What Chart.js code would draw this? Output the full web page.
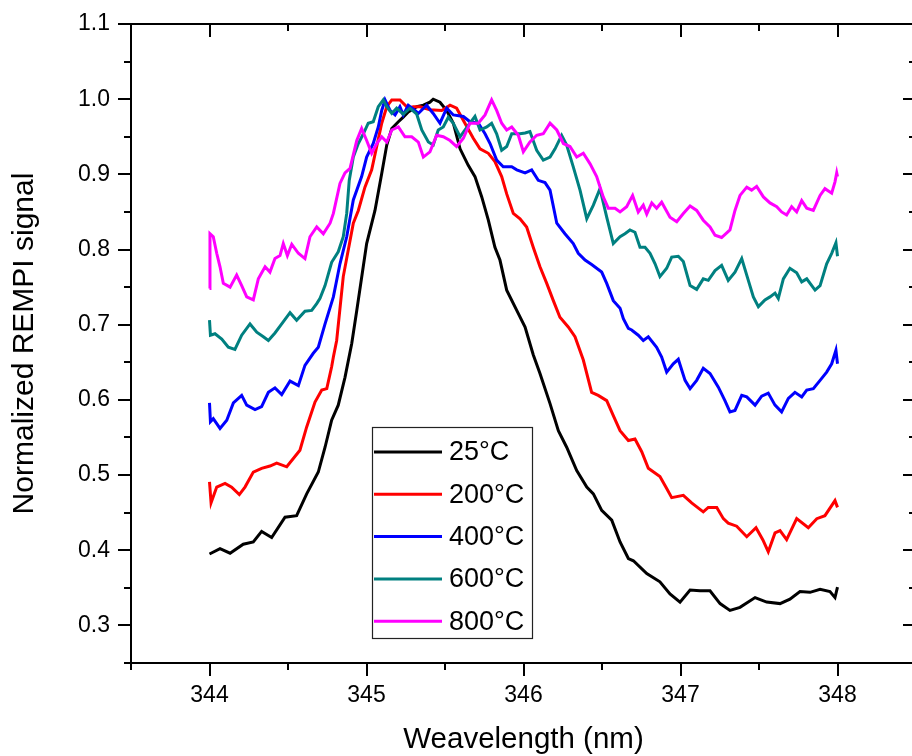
<!DOCTYPE html>
<html><head><meta charset="utf-8">
<script src="https://cdn.jsdelivr.net/npm/chart.js@4.4.1/dist/chart.umd.min.js"></script>
<style>
html,body{margin:0;padding:0;background:#fff;overflow:hidden}
#wrap{width:912px;height:756px;overflow:hidden;position:relative;background:#fff}
canvas{display:block}
</style>
</head><body>
<div id="wrap"><canvas id="c" width="930" height="756" style="width:930px;height:756px"></canvas></div>
<script>
// ---------- data (wavelength in nm, normalized signal) ----------
const seriesNames = ['25°C','200°C','400°C','600°C','800°C'];
const xTickLabels = [344, 345, 346, 347, 348];
const yTickLabels = [0.3, 0.4, 0.5, 0.6, 0.7, 0.8, 0.9, 1.0, 1.1];

const wl25 = [344.000,344.067,344.131,344.215,344.279,344.332,344.396,344.481,344.555,344.619,344.693,344.736,344.778,344.820,344.863,344.906,344.938,345.001,345.054,345.097,345.129,345.161,345.203,345.234,345.266,345.320,345.362,345.404,345.425,345.468,345.511,345.553,345.596,345.648,345.691,345.734,345.776,345.818,345.850,345.893,345.957,346.010,346.062,346.105,346.169,346.222,346.275,346.339,346.403,346.445,346.498,346.562,346.615,346.668,346.700,346.785,346.869,346.933,346.997,347.061,347.124,347.188,347.252,347.315,347.379,347.475,347.549,347.634,347.697,347.761,347.825,347.889,347.952,347.984,348.000];
const sig25 = [0.395,0.402,0.396,0.408,0.411,0.425,0.417,0.444,0.446,0.475,0.504,0.537,0.573,0.593,0.630,0.675,0.719,0.808,0.852,0.901,0.939,0.961,0.970,0.976,0.983,0.990,0.992,0.996,1.000,0.996,0.985,0.968,0.934,0.912,0.897,0.870,0.839,0.803,0.786,0.746,0.719,0.697,0.660,0.635,0.595,0.559,0.537,0.506,0.484,0.475,0.453,0.440,0.411,0.389,0.386,0.369,0.358,0.342,0.331,0.347,0.346,0.346,0.329,0.320,0.324,0.337,0.331,0.329,0.335,0.345,0.344,0.348,0.345,0.337,0.351];

const wl200 = [344.000,344.010,344.046,344.099,344.141,344.190,344.226,344.279,344.332,344.385,344.428,344.492,344.576,344.619,344.672,344.715,344.747,344.778,344.789,344.810,344.852,344.916,344.948,344.990,345.033,345.065,345.097,345.129,345.161,345.213,345.266,345.298,345.341,345.404,345.479,345.532,345.574,345.627,345.680,345.723,345.776,345.818,345.861,345.893,345.935,345.978,346.020,346.062,346.105,346.148,346.190,346.232,346.285,346.328,346.381,346.434,346.476,346.530,346.572,346.615,346.668,346.710,346.753,346.795,346.869,346.912,346.944,347.018,347.071,347.145,347.177,347.231,347.273,347.304,347.358,347.422,347.481,347.524,347.559,347.602,347.634,347.676,347.740,347.814,347.868,347.920,347.984,348.000];
const sig200 = [0.491,0.463,0.484,0.489,0.484,0.474,0.484,0.504,0.509,0.512,0.516,0.511,0.533,0.564,0.597,0.613,0.615,0.644,0.657,0.679,0.764,0.835,0.852,0.883,0.906,0.937,0.968,0.990,0.999,0.999,0.988,0.990,0.990,0.986,0.985,0.992,0.988,0.968,0.948,0.934,0.928,0.917,0.897,0.874,0.848,0.841,0.830,0.803,0.777,0.755,0.732,0.710,0.697,0.684,0.653,0.610,0.606,0.599,0.579,0.559,0.546,0.548,0.531,0.509,0.498,0.482,0.470,0.473,0.463,0.451,0.457,0.457,0.442,0.436,0.432,0.418,0.430,0.414,0.398,0.423,0.426,0.414,0.442,0.430,0.442,0.446,0.466,0.457];

const wl400 = [344.000,344.006,344.024,344.067,344.110,344.152,344.205,344.237,344.290,344.332,344.375,344.417,344.460,344.513,344.566,344.608,344.661,344.693,344.736,344.789,344.831,344.874,344.916,344.969,345.001,345.043,345.075,345.097,345.118,345.150,345.182,345.213,345.234,345.266,345.309,345.330,345.383,345.425,345.468,345.511,345.553,345.617,345.659,345.712,345.755,345.787,345.829,345.871,345.925,345.957,346.010,346.052,346.094,346.137,346.169,346.212,346.264,346.317,346.349,346.392,346.434,346.498,346.530,346.572,346.615,346.636,346.668,346.689,346.731,346.763,346.795,346.848,346.880,346.912,346.954,346.986,347.029,347.061,347.103,347.145,347.188,347.241,347.283,347.315,347.347,347.390,347.422,347.475,347.517,347.559,347.602,347.644,347.687,347.729,347.772,347.804,347.846,347.889,347.931,347.963,347.990,348.000];
const sig400 = [0.596,0.571,0.575,0.562,0.573,0.596,0.606,0.593,0.587,0.591,0.610,0.616,0.607,0.625,0.619,0.646,0.662,0.670,0.701,0.737,0.781,0.817,0.866,0.897,0.923,0.941,0.963,0.985,0.999,0.985,0.979,0.990,0.979,0.992,0.985,0.981,0.992,0.981,0.968,0.988,0.979,0.977,0.970,0.968,0.954,0.941,0.919,0.910,0.910,0.906,0.902,0.906,0.892,0.889,0.879,0.835,0.821,0.808,0.795,0.786,0.780,0.770,0.755,0.732,0.722,0.708,0.695,0.693,0.686,0.679,0.684,0.670,0.657,0.637,0.648,0.654,0.626,0.615,0.626,0.642,0.635,0.617,0.599,0.584,0.586,0.606,0.604,0.593,0.605,0.609,0.593,0.584,0.602,0.610,0.604,0.613,0.615,0.626,0.637,0.648,0.666,0.648];

const wl600 = [344.000,344.006,344.035,344.078,344.120,344.162,344.205,344.258,344.301,344.343,344.375,344.417,344.460,344.513,344.555,344.608,344.651,344.683,344.704,344.736,344.778,344.820,344.852,344.874,344.890,344.916,344.948,344.980,345.011,345.043,345.075,345.107,345.129,345.161,345.192,345.234,345.277,345.320,345.352,345.394,345.425,345.457,345.489,345.521,345.553,345.596,345.648,345.691,345.723,345.766,345.797,345.829,345.861,345.893,345.925,345.978,346.010,346.041,346.084,346.126,346.169,346.201,346.243,346.275,346.317,346.360,346.403,346.445,346.487,346.530,346.572,346.615,346.646,346.678,346.710,346.742,346.774,346.806,346.838,346.869,346.912,346.944,346.986,347.018,347.061,347.103,347.145,347.177,347.220,347.262,347.304,347.347,347.390,347.432,347.464,347.496,347.538,347.570,347.602,347.623,347.655,347.697,347.740,347.772,347.804,347.857,347.889,347.931,347.963,347.990,348.000];
const sig600 = [0.706,0.686,0.688,0.681,0.670,0.667,0.686,0.701,0.690,0.684,0.679,0.689,0.701,0.716,0.706,0.718,0.719,0.728,0.735,0.752,0.783,0.797,0.817,0.848,0.892,0.923,0.941,0.954,0.968,0.970,0.990,0.999,0.990,0.981,0.988,0.980,0.988,0.980,0.959,0.943,0.939,0.959,0.963,0.976,0.968,0.950,0.965,0.977,0.959,0.963,0.968,0.954,0.932,0.937,0.954,0.954,0.955,0.957,0.932,0.919,0.923,0.934,0.952,0.939,0.910,0.879,0.841,0.859,0.881,0.843,0.808,0.817,0.821,0.826,0.823,0.803,0.803,0.795,0.781,0.764,0.775,0.790,0.791,0.784,0.752,0.747,0.761,0.759,0.772,0.779,0.759,0.770,0.788,0.759,0.737,0.724,0.733,0.737,0.742,0.735,0.761,0.775,0.769,0.757,0.761,0.746,0.752,0.781,0.795,0.809,0.791];

const wl800 = [344.000,344.003,344.024,344.046,344.067,344.088,344.131,344.173,344.205,344.237,344.279,344.311,344.354,344.385,344.417,344.449,344.470,344.496,344.524,344.566,344.608,344.640,344.683,344.725,344.768,344.789,344.831,344.863,344.895,344.938,344.969,345.001,345.033,345.065,345.097,345.129,345.161,345.203,345.245,345.288,345.330,345.362,345.404,345.447,345.489,345.532,345.574,345.617,345.659,345.712,345.755,345.797,345.829,345.861,345.893,345.925,345.967,345.999,346.041,346.084,346.126,346.169,346.212,346.254,346.296,346.339,346.381,346.424,346.466,346.508,346.540,346.583,346.615,346.657,346.695,346.731,346.763,346.785,346.817,346.848,346.880,346.933,346.976,347.018,347.061,347.103,347.145,347.188,347.220,347.262,347.315,347.347,347.379,347.422,347.453,347.485,347.528,347.570,347.613,347.644,347.676,347.708,347.740,347.772,347.804,347.846,347.889,347.920,347.963,347.984,347.995,348.000];
const sig800 = [0.748,0.821,0.817,0.795,0.777,0.755,0.750,0.766,0.752,0.737,0.733,0.761,0.777,0.770,0.788,0.792,0.808,0.792,0.807,0.795,0.788,0.817,0.830,0.821,0.835,0.848,0.888,0.902,0.908,0.945,0.961,0.945,0.928,0.941,0.950,0.943,0.959,0.963,0.950,0.950,0.943,0.923,0.930,0.952,0.950,0.945,0.937,0.948,0.968,0.968,0.979,0.999,0.985,0.968,0.959,0.963,0.952,0.930,0.943,0.952,0.954,0.968,0.959,0.941,0.937,0.923,0.928,0.914,0.897,0.870,0.855,0.855,0.850,0.857,0.872,0.850,0.859,0.847,0.862,0.855,0.863,0.843,0.837,0.848,0.858,0.852,0.839,0.830,0.819,0.816,0.826,0.852,0.872,0.883,0.879,0.884,0.870,0.862,0.857,0.850,0.846,0.857,0.850,0.865,0.855,0.852,0.872,0.881,0.875,0.890,0.902,0.897];

// ---------- styling ----------
const FONT = "'Liberation Sans', Arial, Helvetica, sans-serif";
const colors = ['#000000', '#ff0000', '#0000ff', '#008080', '#ff00ff'];
const xs = [wl25, wl200, wl400, wl600, wl800];
const ys = [sig25, sig200, sig400, sig600, sig800];

function pts(x, y) {
  const n = Math.min(x.length, y.length), out = [];
  for (let i = 0; i < n; i++) out.push({x: x[i], y: y[i]});
  return out;
}

const datasets = seriesNames.map((name, i) => ({
  label: name,
  data: pts(xs[i], ys[i]),
  borderColor: colors[i],
  backgroundColor: colors[i],
  borderWidth: 3,
  pointRadius: 0,
  tension: 0,
  fill: false,
  order: seriesNames.length - 1 - i
}));

// axis frame + major/minor ticks on all four sides, from the library scales
const framePlugin = {
  id: 'frame',
  afterDatasetsDraw(chart) {
    const {ctx, chartArea: a, scales: {x, y}} = chart;
    ctx.save();
    ctx.strokeStyle = '#000';
    ctx.lineWidth = 2;
    ctx.lineCap = 'butt';
    ctx.beginPath();
    ctx.rect(a.left, a.top, a.right - a.left, a.bottom - a.top);
    ctx.stroke();
    ctx.beginPath();
    const MAJ = 13, MIN = 7;
    for (let k = 0; ; k++) {
      const v = x.min + k * 0.5;
      if (v > x.max + 1e-9) break;
      const px = Math.round(x.getPixelForValue(v));
      const L = Math.abs(v - Math.round(v)) < 1e-6 ? MAJ : MIN;
      ctx.moveTo(px, a.bottom); ctx.lineTo(px, a.bottom + L);   // outward bottom
      ctx.moveTo(px, a.top);    ctx.lineTo(px, a.top + L);      // inward top
    }
    for (let k = 0; ; k++) {
      const v = y.min + k * 0.05;
      if (v > y.max + 1e-9) break;
      const py = Math.round(y.getPixelForValue(v));
      const major = Math.abs(v * 10 - Math.round(v * 10)) < 1e-6;
      const L = major ? MAJ : MIN;
      ctx.moveTo(a.left, py);  ctx.lineTo(a.left - L, py);      // outward left
      ctx.moveTo(a.right, py); ctx.lineTo(a.right - L, py);     // inward right
    }
    ctx.stroke();
    ctx.restore();
  }
};

// boxed legend inside the plot
const legendPlugin = {
  id: 'boxLegend',
  afterDraw(chart) {
    const ctx = chart.ctx;
    const box = {l: 372, t: 427, r: 532, b: 638};
    const row0 = 452, rowH = 42.3;
    ctx.save();
    ctx.fillStyle = '#fff';
    ctx.fillRect(box.l, box.t, box.r - box.l, box.b - box.t);
    ctx.strokeStyle = '#222';
    ctx.lineWidth = 1.2;
    ctx.strokeRect(box.l + 0.5, box.t + 0.5, box.r - box.l, box.b - box.t);
    ctx.font = '27px ' + FONT;
    ctx.textBaseline = 'middle';
    ctx.textAlign = 'left';
    chart.data.datasets.forEach((ds, i) => {
      const yy = row0 + i * rowH;
      ctx.strokeStyle = ds.borderColor;
      ctx.lineWidth = 3;
      ctx.beginPath();
      ctx.moveTo(374, yy); ctx.lineTo(442, yy);
      ctx.stroke();
      ctx.fillStyle = '#000';
      ctx.fillText(ds.label, 449, yy + 1);
    });
    ctx.restore();
  }
};

new Chart(document.getElementById('c'), {
  type: 'line',
  data: {datasets},
  options: {
    responsive: false,
    animation: false,
    devicePixelRatio: 1,
    layout: {padding: {top: 24, right: 14, bottom: 0, left: 0}},
    plugins: {legend: {display: false}, tooltip: {enabled: false}},
    scales: {
      x: {
        type: 'linear',
        min: 343.5, max: 348.5,
        afterBuildTicks: s => { s.ticks = xTickLabels.map(v => ({value: v})); },
        afterFit: s => { s.height = 93; s.paddingLeft = 0; s.paddingRight = 0; },
        grid: {display: false, drawTicks: false, tickLength: 0},
        border: {display: false},
        ticks: {
          color: '#000', padding: 21, maxRotation: 0, autoSkip: false,
          font: {family: FONT, size: 23, lineHeight: 1},
          callback: v => String(v)
        },
        title: {
          display: true, text: 'Weavelength (nm)', color: '#000',
          font: {family: FONT, size: 29.5, lineHeight: 1},
          padding: {top: 0, bottom: 1}
        }
      },
      y: {
        type: 'linear',
        min: 0.25, max: 1.1,
        afterBuildTicks: s => { s.ticks = yTickLabels.map(v => ({value: v})); },
        afterFit: s => { s.width = 131; s.paddingTop = 0; s.paddingBottom = 0; },
        grid: {display: false, drawTicks: false, tickLength: 0},
        border: {display: false},
        ticks: {
          color: '#000', padding: 21, autoSkip: false,
          font: {family: FONT, size: 23, lineHeight: 1},
          callback: v => Number(v).toFixed(1)
        },
        title: {
          display: true, text: 'Normalized REMPI signal', color: '#000',
          font: {family: FONT, size: 30, lineHeight: 1},
          padding: {top: 10, bottom: 0}
        }
      }
    }
  },
  plugins: [framePlugin, legendPlugin]
});
</script>
</body></html>
